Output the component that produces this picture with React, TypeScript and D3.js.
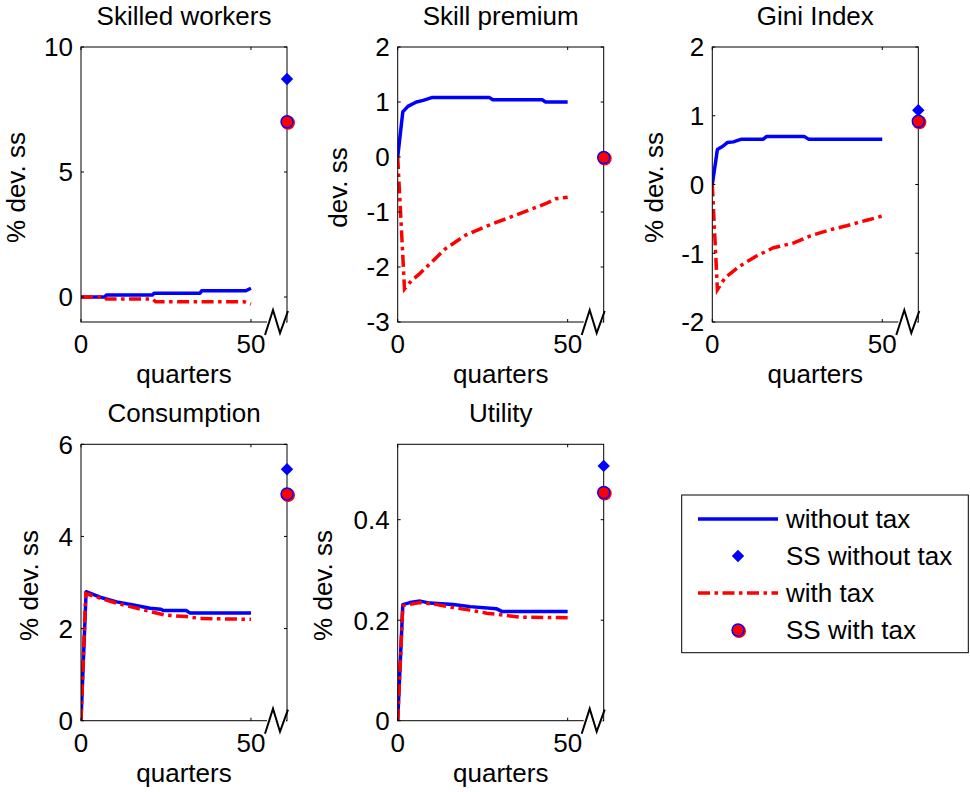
import React from "react";
import * as d3 from "d3";

// quarters after the shock; the steady state (SS) is shown at the right edge
const xTicks = [0, 50];
const SS_X = 60.6;

// Skilled workers
const skilledWithout = [[0, 0], [7, 0], [7.5, 0.08], [21, 0.08], [21.5, 0.15], [35, 0.15], [35.5, 0.25], [48.5, 0.25], [50, 0.35]];
const skilledWith = [[0, 0], [7, 0], [7.5, -0.08], [21, -0.08], [22, -0.19], [48, -0.19], [50, -0.28]];
const skilledSS = [8.72, 7.01];

// Skill premium
const premiumWithout = [[0, 0], [1.5, 0.82], [3, 0.92], [5.5, 1.0], [7.5, 1.03], [10, 1.08], [27, 1.08], [28, 1.04], [42.5, 1.04], [43.5, 1.0], [50, 1.0]];
const premiumWith = [[0, 0], [2, -2.4], [4, -2.25], [6.5, -2.12], [9.5, -1.94], [14, -1.67], [20, -1.42], [26, -1.26], [32, -1.12], [38, -0.98], [43.5, -0.85], [46.5, -0.76], [50, -0.73]];
const premiumSS = [0, -0.01];

// Gini Index
const giniWithout = [[0, 0], [1.5, 0.51], [3.2, 0.56], [4.4, 0.61], [6.2, 0.62], [8.6, 0.66], [15, 0.66], [16, 0.7], [27, 0.7], [28.3, 0.66], [50, 0.66]];
const giniWith = [[0, 0], [1.5, -1.53], [3.7, -1.36], [8, -1.19], [13, -1.04], [18, -0.92], [24, -0.85], [28.7, -0.75], [34.6, -0.66], [39.5, -0.6], [45.4, -0.52], [50, -0.46]];
const giniSS = [1.08, 0.92];

// Consumption
const consWithout = [[0, 0], [1.5, 2.8], [5.6, 2.68], [10.5, 2.58], [15.4, 2.51], [20.3, 2.44], [23.5, 2.42], [24.2, 2.39], [31, 2.39], [32, 2.34], [50, 2.34]];
const consWith = [[0, 0], [1.4, 2.76], [5.6, 2.66], [10.5, 2.55], [15.4, 2.46], [20.3, 2.37], [25, 2.29], [31, 2.26], [35, 2.22], [50, 2.2]];
const consSS = [5.46, 4.92];

// Utility
const utilWithout = [[0, 0], [1.5, 0.231], [3.6, 0.235], [6.6, 0.238], [9.5, 0.234], [16.4, 0.231], [21.3, 0.227], [29, 0.223], [30.6, 0.2175], [50, 0.2175]];
const utilWith = [[0, 0], [1.5, 0.229], [6.6, 0.235], [11.5, 0.231], [16.4, 0.225], [21.3, 0.22], [26.2, 0.214], [31.1, 0.21], [36, 0.206], [50, 0.205]];
const utilSS = [0.507, 0.454];

const legendLabels = ["without tax", "SS without tax", "with tax", "SS with tax"];

const FONT = "'Liberation Sans', Arial, sans-serif";
const FS = 26;
const BLUE = "#0000ff";
const RED = "#ff0000";
const DASH = "12,4.5,3.5,4.5";

const panels = [
  { title: "Skilled workers", ylabel: "% dev. ss", left: 81, top: 47, bottom: 322, yDomain: [-1, 10], yTicks: [0, 5, 10], without: skilledWithout, withTax: skilledWith, ss: skilledSS, labelOff: 56 },
  { title: "Skill premium", ylabel: "dev. ss", left: 397.7, top: 47, bottom: 322, yDomain: [-3, 2], yTicks: [-3, -2, -1, 0, 1, 2], without: premiumWithout, withTax: premiumWith, ss: premiumSS, labelOff: 51 },
  { title: "Gini Index", ylabel: "% dev. ss", left: 712.3, top: 47, bottom: 322, yDomain: [-2, 2], yTicks: [-2, -1, 0, 1, 2], without: giniWithout, withTax: giniWith, ss: giniSS, labelOff: 49 },
  { title: "Consumption", ylabel: "% dev. ss", left: 81, top: 444.3, bottom: 720.7, yDomain: [0, 6], yTicks: [0, 2, 4, 6], without: consWithout, withTax: consWith, ss: consSS, labelOff: 43 },
  { title: "Utility", ylabel: "% dev. ss", left: 397.7, top: 444.3, bottom: 720.7, yDomain: [0, 0.55], yTicks: [0, 0.2, 0.4], without: utilWithout, withTax: utilWith, ss: utilSS, labelOff: 66 },
];

const WIDTH = 206;

function SSCircle({ cx, cy }: { cx: number; cy: number }) {
  return (
    <g>
      <circle cx={cx + 1} cy={cy + 1} r={7} fill={RED} />
      <circle cx={cx} cy={cy} r={6} fill={RED} stroke={BLUE} strokeWidth={1.4} />
    </g>
  );
}

function Diamond({ cx, cy }: { cx: number; cy: number }) {
  const s = 6.2;
  return <path d={`M${cx},${cy - s}L${cx + s},${cy}L${cx},${cy + s}L${cx - s},${cy}Z`} fill={BLUE} />;
}

function Panel({ p }: { p: any }) {
  const right = p.left + WIDTH;
  const x = d3.scaleLinear().domain([0, SS_X]).range([p.left, right]);
  const y = d3.scaleLinear().domain(p.yDomain).range([p.bottom, p.top]);
  const line = d3.line<number[]>().x((d) => x(d[0])).y((d) => y(d[1]));
  const fmt = (v: number) => String(v);
  const midY = (p.top + p.bottom) / 2;
  const B = p.bottom;
  const R = right;
  return (
    <g>
      <text x={(p.left + right) / 2} y={p.top - 22} textAnchor="middle" fontSize={FS}>{p.title}</text>
      <defs>
        <clipPath id={"clip" + p.title.replace(/\s/g, "")}>
          <rect x={p.left} y={p.top} width={WIDTH} height={p.bottom - p.top} />
        </clipPath>
      </defs>
      <g clipPath={`url(#clip${p.title.replace(/\s/g, "")})`}>
        <path d={line(p.without) || ""} fill="none" stroke={BLUE} strokeWidth={3.5} strokeLinejoin="round" />
        <path d={line(p.withTax) || ""} fill="none" stroke={RED} strokeWidth={3.5} strokeDasharray={DASH} />
      </g>
      {/* axes box */}
      <rect x={p.left} y={p.top} width={WIDTH} height={p.bottom - p.top} fill="none" stroke="#000" strokeWidth={1} />
      {p.yTicks.map((t: number) => (
        <g key={t}>
          <line x1={p.left} x2={p.left + 3} y1={y(t)} y2={y(t)} stroke="#000" />
          <line x1={right} x2={right - 3} y1={y(t)} y2={y(t)} stroke="#000" />
          <text x={p.left - 8} y={y(t)} dy="0.36em" textAnchor="end" fontSize={FS}>{fmt(t)}</text>
        </g>
      ))}
      {xTicks.map((t) => (
        <g key={t}>
          <line x1={x(t)} x2={x(t)} y1={p.bottom} y2={p.bottom - 3} stroke="#000" />
          <line x1={x(t)} x2={x(t)} y1={p.top} y2={p.top + 3} stroke="#000" />
          <text x={x(t)} y={p.bottom + 31} textAnchor="middle" fontSize={FS}>{t}</text>
        </g>
      ))}
      <text x={(p.left + right) / 2} y={p.bottom + 61} textAnchor="middle" fontSize={FS}>quarters</text>
      <text transform={`translate(${p.left - p.labelOff},${midY + 3}) rotate(-90)`} textAnchor="middle" fontSize={FS}>{p.ylabel}</text>
      {/* axis break */}
      <rect x={R - 20} y={B - 1} width={19} height={2} fill="#fff" />
      <polyline points={`${R - 22},${B + 13} ${R - 14},${B - 12} ${R - 7},${B + 11} ${R + 1},${B - 11}`} fill="none" stroke="#000" strokeWidth={2} />
      <Diamond cx={x(SS_X)} cy={y(p.ss[0])} />
      <SSCircle cx={x(SS_X)} cy={y(p.ss[1])} />
    </g>
  );
}

function Legend() {
  const rows = [519, 556, 593, 630];
  return (
    <g>
      <rect x={681.7} y={495} width={286.6} height={157.7} fill="#fff" stroke="#000" strokeWidth={1} />
      <line x1={698} x2={778} y1={rows[0]} y2={rows[0]} stroke={BLUE} strokeWidth={3.5} />
      <Diamond cx={738} cy={rows[1]} />
      <line x1={698} x2={778} y1={rows[2]} y2={rows[2]} stroke={RED} strokeWidth={3.5} strokeDasharray={DASH} />
      <SSCircle cx={738} cy={rows[3]} />
      {legendLabels.map((l, i) => (
        <text key={l} x={786} y={rows[i]} dy="0.36em" fontSize={FS}>{l}</text>
      ))}
    </g>
  );
}

export default function App() {
  return (
    <svg width={970} height={792} style={{ position: "absolute", left: 0, top: 0, background: "#fff" }} fontFamily={FONT} fill="#000">
      <rect width={970} height={792} fill="#fff" />
      {panels.map((p) => (
        <Panel key={p.title} p={p} />
      ))}
      <Legend />
    </svg>
  );
}
